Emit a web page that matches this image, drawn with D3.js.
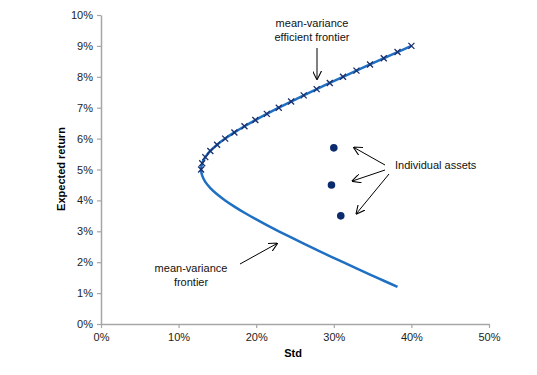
<!DOCTYPE html>
<html>
<head>
<meta charset="utf-8">
<script src="https://cdn.jsdelivr.net/npm/d3@7"></script>
<style>
  body { margin: 0; background: #fff; }
  text { font-family: "Liberation Sans", Arial, sans-serif; }
</style>
</head>
<body>
<div id="chart"></div>
<script>
// efficient (upper) branch, marked with x's: std %, expected return %
const efficientStd = [12.90, 13.04, 13.44, 14.09, 14.96, 16.00, 17.19, 18.49, 19.89, 21.37, 22.91,
                      24.50, 26.12, 27.79, 29.48, 31.19, 32.92, 34.67, 36.44, 38.21, 40.00]
const efficientRet = [5.0, 5.2, 5.4, 5.6, 5.8, 6.0, 6.2, 6.4, 6.6, 6.8, 7.0,
                      7.2, 7.4, 7.6, 7.8, 8.0, 8.2, 8.4, 8.6, 8.8, 9.0]
// lower branch of the frontier
const lowerStd = [12.90, 13.04, 13.44, 14.09, 14.96, 16.00, 17.19, 18.49, 19.89, 21.37, 22.91,
                  24.50, 26.12, 27.79, 29.48, 31.19, 32.92, 34.67, 36.44, 38.21]
const lowerRet = [5.0, 4.8, 4.6, 4.4, 4.2, 4.0, 3.8, 3.6, 3.4, 3.2, 3.0,
                  2.8, 2.6, 2.4, 2.2, 2.0, 1.8, 1.6, 1.4, 1.2]
// individual assets
const assetStd = [30.0, 29.7, 30.9]
const assetRet = [5.7, 4.5, 3.5]

const xTicks = [0, 10, 20, 30, 40, 50]
const yTicks = [0, 1, 2, 3, 4, 5, 6, 7, 8, 9, 10]

const width = 537
const height = 375
const margin = {top: 15, right: 48, bottom: 51, left: 101}

const svg = d3.select("#chart")
    .append("svg")
        .attr("width", width)
        .attr("height", height)

const defs = svg.append("defs")
defs.append("marker")
    .attr("id", "arrow")
    .attr("viewBox", "0 0 10 10")
    .attr("refX", 9)
    .attr("refY", 5)
    .attr("markerWidth", 9)
    .attr("markerHeight", 9)
    .attr("markerUnits", "userSpaceOnUse")
    .attr("orient", "auto")
  .append("path")
    .attr("d", "M0,0 L10,5 L0,10")
    .attr("fill", "none")
    .attr("stroke", "#000")
    .attr("stroke-width", 1.2)

const x = d3.scaleLinear()
    .domain([0, 50])
    .range([margin.left, width - margin.right])

const y = d3.scaleLinear()
    .domain([0, 10])
    .range([height - margin.bottom, margin.top])

const xAxis = g => g
    .attr("transform", `translate(0,${height - margin.bottom})`)
    .call(d3.axisBottom(x).tickValues(xTicks).tickSize(4).tickSizeOuter(0).tickFormat(d => d + "%"))
    .call(g => g.select(".domain").attr("stroke", "#a6a6a6").attr("stroke-width", 1.5))
    .call(g => g.selectAll(".tick line").attr("stroke", "#a6a6a6").attr("stroke-width", 1.2))
    .call(g => g.selectAll(".tick text").attr("font-size", 11).attr("fill", "#222").attr("dy", "0.9em"))

const yAxis = g => g
    .attr("transform", `translate(${margin.left},0)`)
    .call(d3.axisLeft(y).tickValues(yTicks).tickSize(4).tickSizeOuter(0).tickFormat(d => d + "%"))
    .call(g => g.select(".domain").attr("stroke", "#a6a6a6").attr("stroke-width", 1.5))
    .call(g => g.selectAll(".tick line").attr("stroke", "#a6a6a6").attr("stroke-width", 1.2))
    .call(g => g.selectAll(".tick text").attr("font-size", 11).attr("fill", "#222").attr("x", -8))

svg.append("g").call(xAxis)
svg.append("g").call(yAxis)

svg.selectAll(".domain").attr("font-family", null)

// axis titles
svg.append("text")
    .attr("x", 293)
    .attr("y", 357)
    .attr("text-anchor", "middle")
    .attr("font-size", 11)
    .attr("font-weight", "bold")
    .text("Std")

svg.append("text")
    .attr("transform", "translate(65,169) rotate(-90)")
    .attr("text-anchor", "middle")
    .attr("font-size", 11)
    .attr("font-weight", "bold")
    .text("Expected return")

// full frontier: lower branch reversed then upper branch
const frontier = lowerStd.map((s, i) => [s, lowerRet[i]]).reverse()
    .concat(efficientStd.slice(1).map((s, i) => [s, efficientRet[i + 1]]))

const line = d3.line()
    .x(d => x(d[0]))
    .y(d => y(d[1]))
    .curve(d3.curveCatmullRom)

svg.append("path")
    .datum(frontier)
    .attr("fill", "none")
    .attr("stroke", "#1f6fc3")
    .attr("stroke-width", 2.5)
    .attr("stroke-linejoin", "round")
    .attr("d", line)

// x markers on efficient branch
const xs = 3
svg.append("g")
    .attr("stroke", "#1b2f6b")
    .attr("stroke-width", 1.3)
    .selectAll("path")
    .data(efficientStd.map((s, i) => [s, efficientRet[i]]))
    .join("path")
    .attr("d", d => {
        const cx = x(d[0]), cy = y(d[1])
        return `M${cx - xs},${cy - xs}L${cx + xs},${cy + xs}M${cx - xs},${cy + xs}L${cx + xs},${cy - xs}`
    })

// individual assets
svg.append("g")
    .attr("fill", "#0c2a6e")
    .selectAll("circle")
    .data(assetStd.map((s, i) => [s, assetRet[i]]))
    .join("circle")
    .attr("cx", d => x(d[0]))
    .attr("cy", d => y(d[1]))
    .attr("r", 3.8)

// annotations
function label(lines, cx, cy) {
    const t = svg.append("text")
        .attr("text-anchor", "middle")
        .attr("font-size", 11)
        .attr("fill", "#111")
    lines.forEach((l, i) => {
        t.append("tspan").attr("x", cx).attr("y", cy + i * 13.5).text(l)
    })
}

function arrow(x1, y1, x2, y2) {
    svg.append("line")
        .attr("x1", x1).attr("y1", y1)
        .attr("x2", x2).attr("y2", y2)
        .attr("stroke", "#000")
        .attr("stroke-width", 1)
        .attr("marker-end", "url(#arrow)")
}

label(["mean-variance", "efficient frontier"], 312, 27)
arrow(317, 48, 317, 79)

svg.append("text")
    .attr("x", 395)
    .attr("y", 169)
    .attr("font-size", 11)
    .attr("fill", "#111")
    .text("Individual assets")
arrow(385, 165, 354, 147.5)
arrow(385, 170, 352.5, 181)
arrow(389, 174, 356.5, 213.5)

label(["mean-variance", "frontier"], 191, 272)
arrow(240, 264, 277, 243.5)
</script>
</body>
</html>
